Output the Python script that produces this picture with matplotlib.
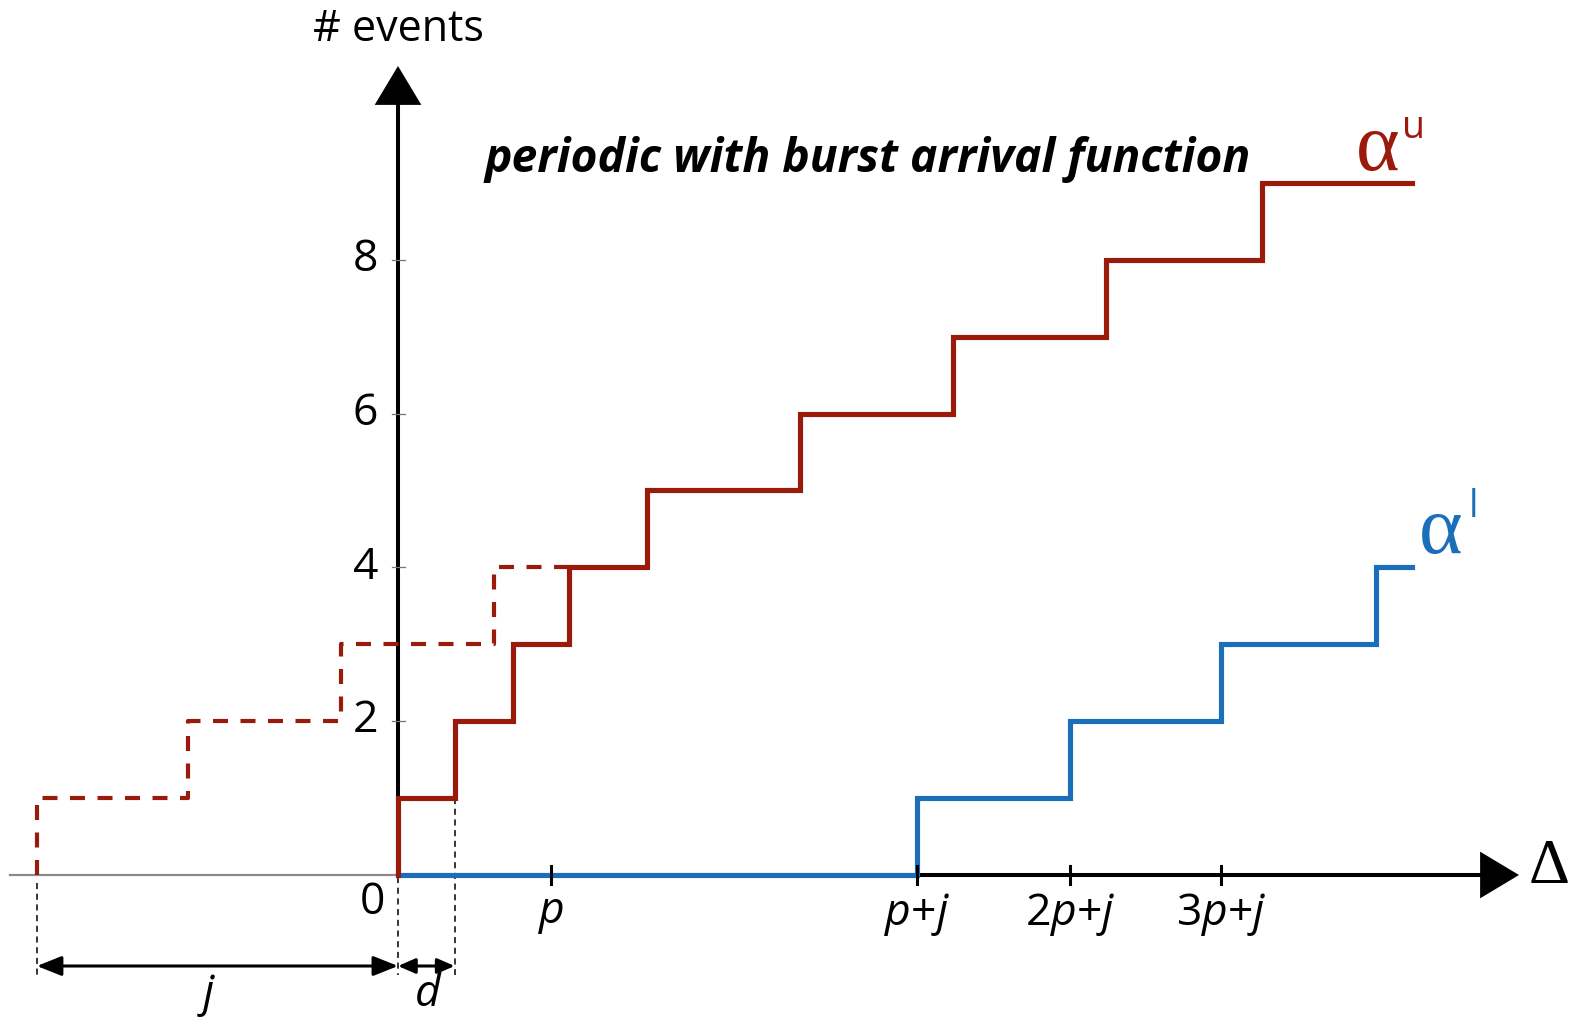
import matplotlib
matplotlib.use("Agg")
import matplotlib.pyplot as plt

# ---- data (time axis in units where p = 10) ----
p = 10.0
j = 23.6
d = 3.7

upper_dash_x = [-23.6, -23.6, -13.7, -3.7, 6.3, 11.2]
upper_dash_y = [0, 1, 2, 3, 4, 4]
upper_x = [0, 0, 3.7, 7.5, 11.2, 16.3, 26.3, 36.3, 46.3, 56.5, 66.3]
upper_y = [0, 1, 2, 3, 4, 5, 6, 7, 8, 9, 9]
lower_x = [0, 33.9, 43.9, 53.8, 63.9, 66.3]
lower_y = [0, 1, 2, 3, 4, 4]

ytick_vals = [2, 4, 6, 8]
xtick_pos = [10, 33.9, 43.9, 53.8]
xtick_labels = [r"$p$", r"$p$+$j$", r"2$p$+$j$", r"3$p$+$j$"]

RED = "#9a1b0b"
BLUE = "#1b6fba"

plt.rcParams["font.family"] = ["Open Sans", "DejaVu Sans"]
plt.rcParams["mathtext.fontset"] = "custom"
plt.rcParams["mathtext.rm"] = "Open Sans"
plt.rcParams["mathtext.it"] = "Open Sans:italic"

W, H = 1574, 1022
fig = plt.figure(figsize=(W / 100, H / 100), dpi=100)
ax = fig.add_axes([0, 0, 1, 1])
ax.set_axis_off()

# pixel -> data mapping helpers (layout only)
X0, Y0, SX, SY = 398.0, 875.0, 15.3, 76.9
ax.set_xlim(-X0 / SX, (W - X0) / SX)
ax.set_ylim(-(H - Y0) / SY, Y0 / SY)

def fx(px):
    return px / W

def fy(py):
    return 1 - py / H

FS = 31

# ---- axes ----
ax.plot([(10 - X0) / SX, 0], [0, 0], color="#8a8a8a", lw=1.6, zorder=1)
ax.plot([0, (1490 - X0) / SX], [0, 0], color="black", lw=2.9, zorder=1,
        solid_capstyle="butt")
ax.plot([0, 0], [0, (98 - Y0) / -SY], color="black", lw=2.9, zorder=1,
        solid_capstyle="butt")
ax.annotate("", xy=((1519 - X0) / SX, 0), xytext=((1480 - X0) / SX, 0),
            arrowprops=dict(arrowstyle="-|>,head_length=1.0,head_width=0.6",
                            mutation_scale=28, color="black", lw=0,
                            shrinkA=0, shrinkB=0), zorder=5)
ax.annotate("", xy=(0, (Y0 - 66) / SY), xytext=(0, (Y0 - 105) / SY),
            arrowprops=dict(arrowstyle="-|>,head_length=1.0,head_width=0.6",
                            mutation_scale=28, color="black", lw=0,
                            shrinkA=0, shrinkB=0), zorder=5)

# y ticks
for v in ytick_vals:
    ax.plot([-6 / SX, 7 / SX], [v, v], color="#777777", lw=0.9, zorder=2)
    ax.text(-20 / SX, v, str(v), ha="right", va="center", fontsize=FS + 1)

# x ticks
for xp, lab in zip(xtick_pos, xtick_labels):
    ax.plot([xp, xp], [-9 / SY, 9 / SY], color="black", lw=2.2, zorder=4)
    ax.text(xp, -16 / SY, lab, ha="center", va="top", fontsize=FS + 1)
ax.text(-26 / SX, -28 / SY, "0", ha="center", va="center", fontsize=FS + 1)

# ---- curves ----
ax.step(lower_x, lower_y, where="post", color=BLUE, lw=3.7, zorder=3,
        solid_joinstyle="miter")
ax.step(upper_dash_x, upper_dash_y, where="post", color=RED, lw=3.0,
        dashes=(3.6, 3.0), zorder=3)
ax.step(upper_x, upper_y, where="post", color=RED, lw=3.7, zorder=4,
        solid_joinstyle="miter")

# ---- j / d annotations ----
dl = dict(color="black", lw=1.1, dashes=(4, 3), zorder=2)
ax.plot([-j, -j], [-8 / SY, -100 / SY], **dl)
ax.plot([0, 0], [-2 / SY, -100 / SY], **dl)
ax.plot([d, d], [1, -100 / SY], **dl)
ya = -91 / SY
ax.annotate("", xy=(-j, ya), xytext=(0, ya),
            arrowprops=dict(arrowstyle="<|-|>,head_length=1.0,head_width=0.4",
                            mutation_scale=15, color="black", lw=2.2,
                            shrinkA=0, shrinkB=0))
ax.annotate("", xy=(0, ya), xytext=(d, ya),
            arrowprops=dict(arrowstyle="<|-|>,head_length=0.8,head_width=0.35",
                            mutation_scale=13, color="black", lw=2.2,
                            shrinkA=0, shrinkB=0))
ax.text(-j / 2 - 0.7, -120 / SY, r"$j$", ha="center", va="center", fontsize=FS + 1)
ax.text(d / 2 + 0.1, -120 / SY, r"$d$", ha="center", va="center", fontsize=FS + 1)

# ---- labels ----
fig.text(fx(398), fy(30), "# events", ha="center", va="center", fontsize=FS)
fig.text(fx(1549), fy(868), "Δ", ha="center", va="center", fontsize=46,
         family=["Liberation Serif", "DejaVu Serif"])
fig.text(fx(485), fy(172), "periodic with burst arrival function",
         ha="left", va="baseline", fontsize=33.3, fontweight="bold",
         fontstyle="italic")
fig.text(fx(1378), fy(150), "α", ha="center", va="center", fontsize=60,
         family=["Liberation Serif", "DejaVu Serif"], color=RED)
fig.text(fx(1402), fy(128), "u", ha="left", va="center", fontsize=27,
         color=RED)
fig.text(fx(1441), fy(533), "α", ha="center", va="center", fontsize=60,
         family=["Liberation Serif", "DejaVu Serif"], color=BLUE)
fig.text(fx(1474), fy(507), "l", ha="center", va="center", fontsize=27,
         color=BLUE)

fig.savefig("out.png", dpi=100)
